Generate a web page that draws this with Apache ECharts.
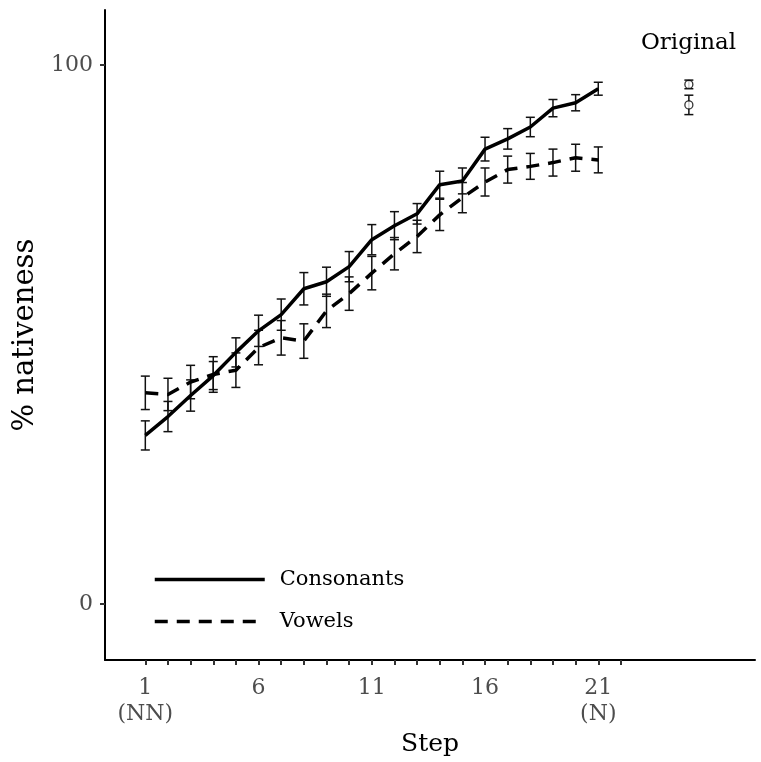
<!DOCTYPE html>
<html>
<head>
<meta charset="utf-8">
<style>
  html, body { margin: 0; padding: 0; background: #fff; }
  #chart { width: 761px; height: 762px; }
</style>
<script src="https://cdn.jsdelivr.net/npm/echarts@6/dist/echarts.min.js"></script>
</head>
<body>
<div id="chart"></div>
<script>
// 数据
var steps = [1, 2, 3, 4, 5, 6, 7, 8, 9, 10, 11, 12, 13, 14, 15, 16, 17, 18, 19, 20, 21];
var consonants = [31.3, 34.8, 38.7, 42.4, 46.7, 50.7, 53.7, 58.5, 59.8, 62.6, 67.6, 70.2, 72.4, 77.8, 78.5, 84.4, 86.3, 88.5, 92.0, 93.0, 95.6];
var consonantsErr = [2.7, 2.8, 2.9, 2.6, 2.7, 2.9, 2.9, 3.0, 2.7, 2.8, 2.8, 2.6, 1.9, 2.5, 2.4, 2.2, 1.9, 1.8, 1.6, 1.5, 1.2];
var vowels = [39.2, 38.9, 41.2, 42.6, 43.4, 47.6, 49.4, 48.8, 54.4, 57.6, 61.4, 65.0, 68.2, 72.2, 75.4, 78.3, 80.6, 81.2, 81.9, 82.8, 82.4];
var vowelsErr = [3.1, 3.0, 3.1, 3.3, 3.2, 3.2, 3.2, 3.2, 3.1, 3.1, 3.1, 3.0, 3.0, 2.9, 2.8, 2.6, 2.5, 2.4, 2.5, 2.5, 2.4];
var originalStep = 25;
var originalValues = [96.4, 92.6];
var originalErr = [0.8, 1.8];
var xTickValues = [1, 2, 3, 4, 5, 6, 7, 8, 9, 10, 11, 12, 13, 14, 15, 16, 17, 18, 19, 20, 21, 22];
var xLabelValues = [1, 6, 11, 16, 21];
var xLabelText = { 1: '1\n(NN)', 6: '6', 11: '11', 16: '16', 21: '21\n(N)' };
var yTickValues = [0, 100];

(function () {
  var font = 'DejaVu Serif';
  var myChart = echarts.init(document.getElementById('chart'));

  // 误差线数据 [x, 下限, 上限]
  function buildErr(xs, ys, es) {
    return xs.map(function (x, i) {
      return [x, ys[i] - es[i], ys[i] + es[i]];
    });
  }
  var errData = buildErr(steps, consonants, consonantsErr)
    .concat(buildErr(steps, vowels, vowelsErr))
    .concat(buildErr([originalStep, originalStep], originalValues, originalErr));

  function renderErr(params, api) {
    var x = api.value(0);
    var lo = api.coord([x, api.value(1)]);
    var hi = api.coord([x, api.value(2)]);
    var w = 4.5;
    var st = { stroke: '#111', lineWidth: 1.5 };
    return {
      type: 'group',
      children: [
        { type: 'line', shape: { x1: lo[0], y1: lo[1], x2: hi[0], y2: hi[1] }, style: st },
        { type: 'line', shape: { x1: lo[0] - w, y1: lo[1], x2: lo[0] + w, y2: lo[1] }, style: st },
        { type: 'line', shape: { x1: hi[0] - w, y1: hi[1], x2: hi[0] + w, y2: hi[1] }, style: st }
      ]
    };
  }

  var option = {
    animation: false,
    title: {
      text: 'Original',
      left: 636,
      top: 27,
      textStyle: { fontFamily: font, fontSize: 23, fontWeight: 'normal', color: '#000' }
    },
    legend: {
      orient: 'vertical',
      left: 148,
      top: 564,
      itemWidth: 110,
      itemHeight: 14,
      itemGap: 21,
      data: ['Consonants', 'Vowels'],
      itemStyle: { opacity: 0 },
      lineStyle: { width: 3.5 },
      textStyle: { fontFamily: font, fontSize: 21, color: '#000', padding: [0, 0, 0, 10] }
    },
    grid: { left: 105, right: 6, top: 10, bottom: 101 },
    xAxis: {
      type: 'value',
      min: -0.78,
      max: 27.92,
      name: 'Step',
      nameLocation: 'middle',
      nameGap: 70,
      nameTextStyle: { fontFamily: font, fontSize: 25, color: '#000' },
      axisLine: { onZero: false, lineStyle: { color: '#000', width: 2 } },
      axisTick: { customValues: xTickValues, length: 5, lineStyle: { color: '#333', width: 2 } },
      axisLabel: {
        customValues: xLabelValues,
        formatter: function (v) { return xLabelText[v] || String(v); },
        fontFamily: font,
        fontSize: 22,
        lineHeight: 26,
        color: '#4d4d4d',
        margin: 15
      },
      splitLine: { show: false }
    },
    yAxis: {
      type: 'value',
      min: -10.37,
      max: 110.2,
      name: '% nativeness',
      nameLocation: 'middle',
      nameGap: 57,
      nameTextStyle: { fontFamily: font, fontSize: 29, color: '#000' },
      axisLine: { show: true, onZero: false, lineStyle: { color: '#000', width: 2 } },
      axisTick: { show: true, customValues: yTickValues, length: 5, lineStyle: { color: '#333', width: 2 } },
      axisLabel: { customValues: yTickValues, fontFamily: font, fontSize: 22, color: '#4d4d4d', margin: 12 },
      splitLine: { show: false }
    },
    series: [
      {
        name: 'err',
        type: 'custom',
        renderItem: renderErr,
        data: errData,
        z: 2,
        silent: true
      },
      {
        name: 'Consonants',
        type: 'line',
        data: steps.map(function (s, i) { return [s, consonants[i]]; }),
        symbol: 'none',
        lineStyle: { color: '#000', width: 3.5 },
        itemStyle: { color: '#000' },
        z: 3
      },
      {
        name: 'Vowels',
        type: 'line',
        data: steps.map(function (s, i) { return [s, vowels[i]]; }),
        symbol: 'none',
        lineStyle: { color: '#000', width: 3.5, type: [13, 9] },
        itemStyle: { color: '#000' },
        z: 3
      },
      {
        name: 'original',
        type: 'scatter',
        data: originalValues.map(function (v) { return [originalStep, v]; }),
        symbol: 'circle',
        symbolSize: 8,
        itemStyle: { color: '#fff', borderColor: '#000', borderWidth: 1.3 },
        z: 4
      }
    ]
  };

  myChart.setOption(option);
  window.addEventListener('resize', function () {
    myChart.resize();
  });
})();
</script>
</body>
</html>
